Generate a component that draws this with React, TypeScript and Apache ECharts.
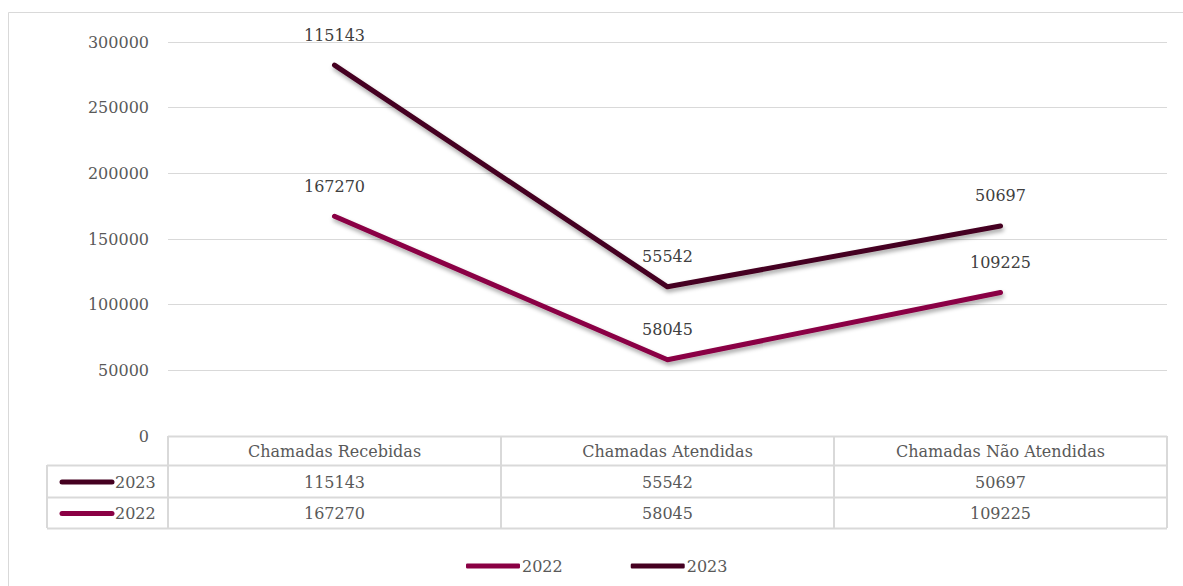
import React, { useEffect, useRef } from "react";
import * as echarts from "echarts";

const categories = ["Chamadas Recebidas", "Chamadas Atendidas", "Chamadas Não Atendidas"];
const values2022 = [167270, 58045, 109225];
const values2023 = [115143, 55542, 50697];
const seriesNames = ["2022", "2023"];
const seriesColors = ["#8a0044", "#450020"];

const W = 1183;
const H = 586;
const GRID_LEFT = 168;
const GRID_RIGHT = 16;
const GRID_TOP = 42;
const GRID_BOTTOM = 150;
const FONT = "DejaVu Serif";
const FS = 16;

export default function App() {
  const ref = useRef<HTMLDivElement>(null);
  useEffect(() => {
    if (!ref.current) return;
    const chart = echarts.init(ref.current, undefined, { renderer: "svg" });
    const plotRight = W - GRID_RIGHT;
    const plotBottom = H - GRID_BOTTOM;
    const colW = (plotRight - GRID_LEFT) / categories.length;
    const rowTops = [plotBottom, 465, 497, 528];
    const tableLeft = 47;
    const lineColor = "#d9d9d9";
    const g: any[] = [];
    // outer border (right edge lies off-canvas)
    g.push({ type: "rect", shape: { x: 8.5, y: 12.5, width: 1200, height: 600 }, style: { fill: "none", stroke: lineColor, lineWidth: 1 }, silent: true });
    g.push({ type: "line", shape: { x1: GRID_LEFT, y1: rowTops[0] + 0.5, x2: plotRight, y2: rowTops[0] + 0.5 }, style: { stroke: lineColor, lineWidth: 2 } });
    for (let i = 1; i < rowTops.length; i++) {
      g.push({ type: "line", shape: { x1: tableLeft, y1: rowTops[i] + 0.5, x2: plotRight, y2: rowTops[i] + 0.5 }, style: { stroke: lineColor, lineWidth: 2 } });
    }
    g.push({ type: "line", shape: { x1: tableLeft, y1: rowTops[1], x2: tableLeft, y2: rowTops[3] }, style: { stroke: lineColor, lineWidth: 2 } });
    for (let c = 0; c <= categories.length; c++) {
      const x = GRID_LEFT + c * colW;
      g.push({ type: "line", shape: { x1: x, y1: rowTops[0], x2: x, y2: rowTops[3] }, style: { stroke: lineColor, lineWidth: 2 } });
    }
    categories.forEach((cat, c) => {
      g.push({ type: "text", x: GRID_LEFT + (c + 0.5) * colW, y: (rowTops[0] + rowTops[1]) / 2 + 1, style: { text: cat, fill: "#595959", font: `${FS}px '${FONT}'`, align: "center", verticalAlign: "middle" } });
    });
    const rows = [
      { name: seriesNames[1], vals: values2023, color: seriesColors[1] },
      { name: seriesNames[0], vals: values2022, color: seriesColors[0] },
    ];
    rows.forEach((r, i) => {
      const cy = (rowTops[i + 1] + rowTops[i + 2]) / 2 + 1;
      g.push({ type: "line", shape: { x1: 62, y1: cy, x2: 112, y2: cy }, style: { stroke: r.color, lineWidth: 5, lineCap: "round" } });
      g.push({ type: "text", x: 115, y: cy, style: { text: r.name, fill: "#595959", font: `${FS}px '${FONT}'`, align: "left", verticalAlign: "middle" } });
      r.vals.forEach((v, c) => {
        g.push({ type: "text", x: GRID_LEFT + (c + 0.5) * colW, y: cy, style: { text: String(v), fill: "#595959", font: `${FS}px '${FONT}'`, align: "center", verticalAlign: "middle" } });
      });
    });

    const lineSeries = (name: string, data: number[], color: string) => ({
      name,
      type: "line",
      stack: "total",
      data,
      symbol: "circle",
      symbolSize: 4,
      showSymbol: true,
      lineStyle: { color, width: 5, cap: "round", join: "round", shadowColor: "rgba(0,0,0,0.35)", shadowBlur: 4, shadowOffsetX: 1, shadowOffsetY: 3 },
      itemStyle: { color, borderWidth: 0 },
      label: { show: true, position: "top", distance: 20, color: "#404040", fontFamily: FONT, fontSize: FS, formatter: (p: any) => String(p.value) },
    });

    chart.setOption({
      animation: false,
      textStyle: { fontFamily: FONT },
      grid: { left: GRID_LEFT, right: GRID_RIGHT, top: GRID_TOP, bottom: GRID_BOTTOM },
      xAxis: {
        type: "category",
        data: categories,
        boundaryGap: true,
        axisLine: { show: false },
        axisTick: { show: false },
        axisLabel: { show: false },
      },
      yAxis: {
        type: "value",
        min: 0,
        max: 300000,
        interval: 50000,
        axisLine: { show: false },
        axisTick: { show: false },
        axisLabel: { color: "#595959", fontSize: FS, fontFamily: FONT, margin: 19, formatter: (v: number) => String(v) },
        splitLine: { lineStyle: { color: lineColor, width: 1 } },
      },
      legend: {
        data: seriesNames,
        left: 466,
        top: 558,
        padding: 0,
        icon: "roundRect",
        itemWidth: 54,
        itemHeight: 5,
        itemGap: 68,
        textStyle: { color: "#595959", fontSize: FS, fontFamily: FONT, padding: [0, 0, 0, -3] },
      },
      series: [
        lineSeries(seriesNames[0], values2022, seriesColors[0]),
        lineSeries(seriesNames[1], values2023, seriesColors[1]),
      ],
      graphic: g,
    });
    return () => chart.dispose();
  }, []);
  return <div ref={ref} style={{ position: "fixed", left: 0, top: 0, width: W, height: H, background: "#fff" }} />;
}
